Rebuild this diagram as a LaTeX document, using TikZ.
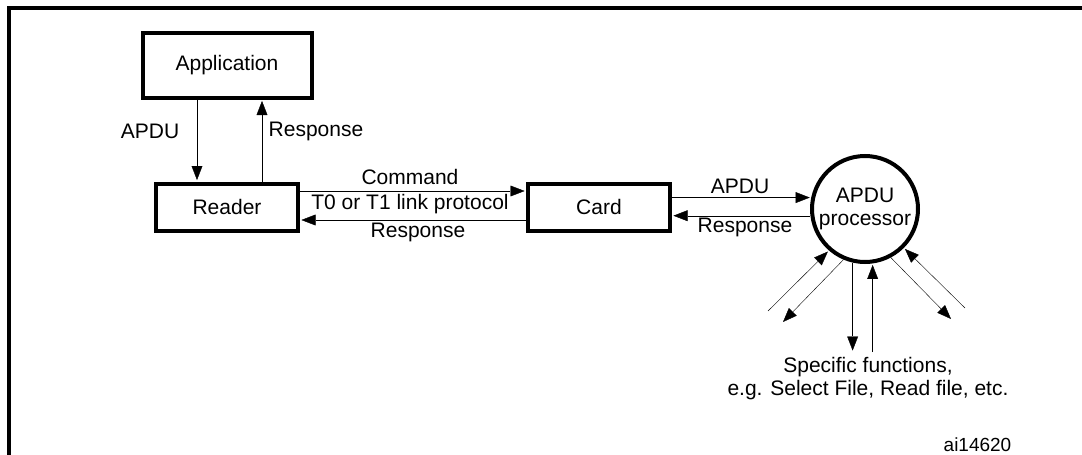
\documentclass[tikz,border=0pt]{standalone}
\usepackage{fontspec}
\setmainfont{Liberation Sans}
\usetikzlibrary{positioning}
\usetikzlibrary{shapes.geometric, arrows.meta}

\begin{document}
\begin{tikzpicture}[x=1pt,y=-1pt]
    \tikzset{base/.style = {rectangle, draw=black, line width=4pt,
                           text centered, font=\fontsize{21}{23}\selectfont}}
    \tikzset{block/.style = {base, minimum width=142pt, minimum height=47pt}}
    \tikzset{procnode/.style = {base, circle, minimum size=106pt, inner sep=0pt, align=center}}
    \tikzset{lbl/.style = {inner sep=0pt, font=\fontsize{21}{23}\selectfont}}
    \tikzset{>={Triangle[length=16pt,width=12pt]}, line width=1.4pt}

    \useasboundingbox (0,0) rectangle (1082,455);
    \draw[line width=4pt] (9,460) -- (9,8) -- (1090,8);

    \node (app) [block, minimum width=169pt, minimum height=65pt] at (227,65) {Application};
    \node (reader) [block] at (227,207) {Reader};
    \node (card) [block] at (599,207) {Card};
    \node (proc) [procnode] at (865,209) {APDU\\processor};

    \coordinate (fl1) at (768,311);
    \coordinate (fl2) at (782,323);
    \coordinate (fbot) at (865,352);
    \coordinate (fr1) at (952,320);
    \coordinate (fr2) at (965,308);

    \draw[->] ([xshift=-30pt]app.south) -- ([xshift=-30pt]reader.north);
    \draw[->] ([xshift=35pt]reader.north) -- ([xshift=35pt]app.south);
    \draw[->] ([yshift=16pt]reader.east) -- ([yshift=16pt]card.west);
    \draw[->] ([yshift=-13pt]card.west) -- ([yshift=-13pt]reader.east);
    \draw[->] (card.east |- proc.168) -- (proc.168);
    \draw[->] (proc.187) -- (card.east |- proc.187);

    \draw[->] (fl1) -- (proc.229);
    \draw[->] (proc.247) -- (fl2);
    \draw[->] (proc.257) -- (proc.257 |- fbot);
    \draw[->] (proc.278 |- fbot) -- (proc.278);
    \draw[->] (proc.298) -- (fr1);
    \draw[->] (fr2) -- (proc.315);

    \node (lapdu1) [lbl] at (150,131) {APDU};
    \node (lresp1) [lbl, anchor=west] at (268,131) {Response};
    \node (lcmd) [lbl] at (410,177) {Command};
    \node (llink) [lbl] at (410,204) {T0 or T1 link protocol};
    \node (lresp2) [lbl] at (418,232) {Response};
    \node (lapdu2) [lbl] at (740,186) {APDU};
    \node (lresp3) [lbl] at (745,227) {Response};
    \node (lfunc) [lbl, align=center] at (868,379) {Specific functions,\\e.g. Select File, Read file, etc.};
    \node (lid) [lbl, anchor=east, font=\fontsize{19}{21}\selectfont] at (1012,445) {ai14620};

\end{tikzpicture}
\end{document}
